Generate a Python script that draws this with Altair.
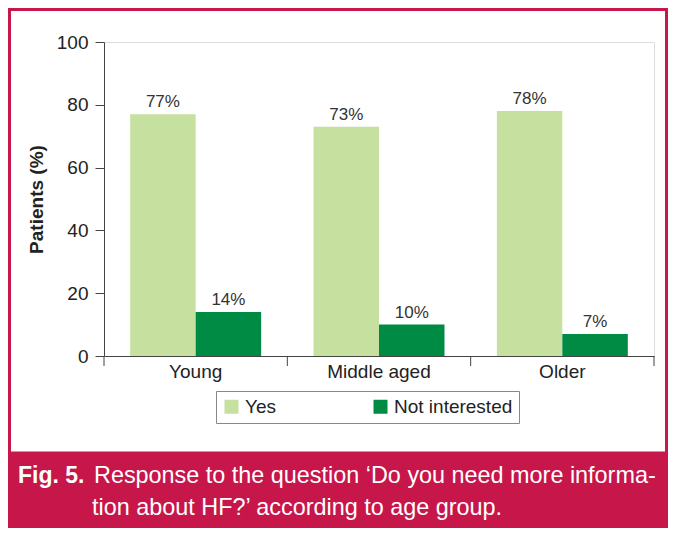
import altair as alt
import pandas as pd

groups = ["Young", "Middle aged", "Older"]
responses = ["Yes", "Not interested"]
yes_vals = [77, 73, 78]
not_interested_vals = [14, 10, 7]
y_ticks = [0, 20, 40, 60, 80, 100]
colors = ["#c6e09f", "#008b45"]
caption_bold = "Fig. 5."
caption_line1 = "Response to the question \u2018Do you need more informa-"
caption_line2 = "tion about HF?\u2019 according to age group."

rows = []
for g, v in zip(groups, yes_vals):
    rows.append({"group": g, "response": "Yes", "value": v, "label": f"{v}%"})
for g, v in zip(groups, not_interested_vals):
    rows.append({"group": g, "response": "Not interested", "value": v, "label": f"{v}%"})
df = pd.DataFrame(rows)
sep_df = pd.DataFrame({"group": groups})
dummy = pd.DataFrame({"a": [0]})

W, H = 550, 314
CRIMSON = "#c6164a"
FONT = "Liberation Sans"

xaxis = alt.Axis(title=None, labelFontSize=19, labelColor="#222", ticks=False,
                 domainColor="#444", labelPadding=6, labelAngle=0, labelFont=FONT)
yaxis = alt.Axis(values=y_ticks, title="Patients (%)", titleFontSize=19, titleFontWeight="bold",
                 titleColor="#222", titlePadding=10, grid=False, tickSize=9, tickColor="#444",
                 domainColor="#444", labelFontSize=19, labelColor="#222", labelPadding=7,
                 labelFont=FONT, titleFont=FONT)
xscale = alt.Scale(domain=groups, paddingInner=0, paddingOuter=0)
yscale = alt.Scale(domain=[0, 100])
xoff = alt.XOffset("response:N", sort=responses,
                   scale=alt.Scale(domain=responses, paddingOuter=0.4, paddingInner=0))

frame = alt.Chart(dummy).mark_rect(fillOpacity=0, stroke=CRIMSON, strokeWidth=3, clip=False).encode(
    x=alt.value(-94.5), x2=alt.value(562.5), y=alt.value(-32.5), y2=alt.value(411))
band = alt.Chart(dummy).mark_rect(color=CRIMSON, clip=False).encode(
    x=alt.value(-96), x2=alt.value(564), y=alt.value(410), y2=alt.value(486))
cap0 = alt.Chart(dummy).mark_text(align="left", baseline="middle", fontSize=23, fontWeight="bold",
                                  color="white", font=FONT, clip=False).encode(
    x=alt.value(-86), y=alt.value(434), text=alt.value(caption_bold))
cap1 = alt.Chart(dummy).mark_text(align="left", baseline="middle", fontSize=23.4,
                                  color="white", font=FONT, clip=False).encode(
    x=alt.value(-10), y=alt.value(434), text=alt.value(caption_line1))
cap2 = alt.Chart(dummy).mark_text(align="left", baseline="middle", fontSize=23.4,
                                  color="white", font=FONT, clip=False).encode(
    x=alt.value(-12), y=alt.value(466), text=alt.value(caption_line2))

bars = alt.Chart(df).mark_bar().encode(
    x=alt.X("group:N", sort=groups, scale=xscale, axis=xaxis),
    xOffset=xoff,
    y=alt.Y("value:Q", scale=yscale, axis=yaxis),
    color=alt.Color("response:N", sort=responses,
                    scale=alt.Scale(domain=responses, range=colors),
                    legend=alt.Legend(title=None, orient="none", legendX=112, legendY=349,
                                      direction="horizontal", strokeColor="#888",
                                      padding=6, symbolType="square", symbolSize=196,
                                      symbolStrokeWidth=0, labelFontSize=19, labelColor="#222",
                                      labelFont=FONT, columnPadding=95, labelOffset=4,
                                      labelLimit=200)),
)
labels = alt.Chart(df).mark_text(baseline="bottom", dy=-3, fontSize=17, color="#333", font=FONT).encode(
    x=alt.X("group:N", sort=groups, scale=xscale, axis=xaxis),
    xOffset=xoff,
    y=alt.Y("value:Q", scale=yscale, axis=yaxis),
    text="label:N",
)
seps = alt.Chart(sep_df).mark_rule(color="#444", strokeWidth=1, clip=False).encode(
    x=alt.X("group:N", sort=groups, scale=xscale, axis=xaxis, bandPosition=0),
    y=alt.value(H), y2=alt.value(H + 10),
)
end_tick = alt.Chart(dummy).mark_rule(color="#444", strokeWidth=1, clip=False).encode(
    x=alt.value(W), y=alt.value(H), y2=alt.value(H + 10))

chart = alt.layer(frame, band, cap0, cap1, cap2, bars, labels, seps, end_tick).properties(
    width=W, height=H,
    autosize=alt.AutoSizeParams(type="none"),
    padding={"left": 96, "top": 34, "right": 14, "bottom": 172},
    background="white",
).configure_view(stroke=None).configure(font=FONT)

chart.save("out.html", embed_options={"renderer": "svg", "actions": False})
